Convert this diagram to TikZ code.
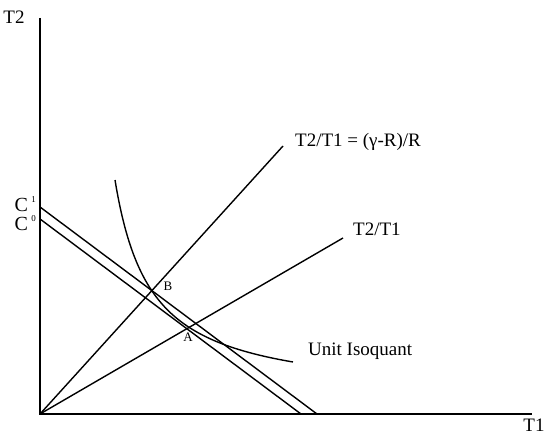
\documentclass[tikz,border=0pt]{standalone}
\usepackage{fontspec}
\setmainfont{Liberation Serif}
\usetikzlibrary{calc}

\tikzset{
  curve/.style={line width=1.4pt},
  axis/.style={line width=1.7pt},
  axislbl/.style={font=\fontsize{19}{21}\selectfont, inner sep=0pt},
  pointlbl/.style={font=\fontsize{13}{13}\selectfont, inner sep=0pt},
}
\newcommand{\supidx}[1]{\,\raisebox{1.0ex}[0pt][0pt]{\fontsize{9}{9}\selectfont #1}}

\begin{document}
\begin{tikzpicture}[x=1pt, y=1pt]
  \useasboundingbox (-40,-20) rectangle (507,414);
  % axes
  \coordinate (O) at (0,0);
  \coordinate (Ytop) at (0,396);
  \coordinate (Xend) at (492,0);
  \draw[axis] (Ytop) -- (O) -- (Xend);
  \node[axislbl] (t2) at (-26,397) {T2};
  \node[axislbl] (t1) at (494,-11) {T1};

  % budget lines
  \coordinate (C1a) at (0,207);
  \coordinate (C1b) at (277,0);
  \coordinate (C0a) at (0,195);
  \coordinate (C0b) at (261,0);
  \draw[curve] (C1a) -- (C1b);
  \draw[curve] (C0a) -- (C0b);
  \node[axislbl, font=\fontsize{20}{22}\selectfont, anchor=east] (c1) at (-4,209) {C\supidx{1}};
  \node[axislbl, font=\fontsize{20}{22}\selectfont, anchor=east] (c0) at (-4,190) {C\supidx{0}};

  % rays from the origin
  \coordinate (R1) at (243,268);
  \coordinate (R2) at (303,176);
  \draw[curve] (O) -- (R1);
  \draw[curve] (O) -- (R2);
  \node[axislbl, anchor=west] (ratio1) at (255,272) {T2/T1 = (γ-R)/R};
  \node[axislbl, anchor=west] (ratio2) at (313,185) {T2/T1};

  % isoquant
  \draw[curve] plot[domain=75:253, samples=120] (\x,{15.3 + 7851/(\x - 39.1)});
  \node[axislbl, anchor=west] (iso) at (268,63) {Unit Isoquant};

  \node[pointlbl] (b) at (128,128) {B};
  \node[pointlbl] (a) at (148,77) {A};
\end{tikzpicture}
\end{document}
